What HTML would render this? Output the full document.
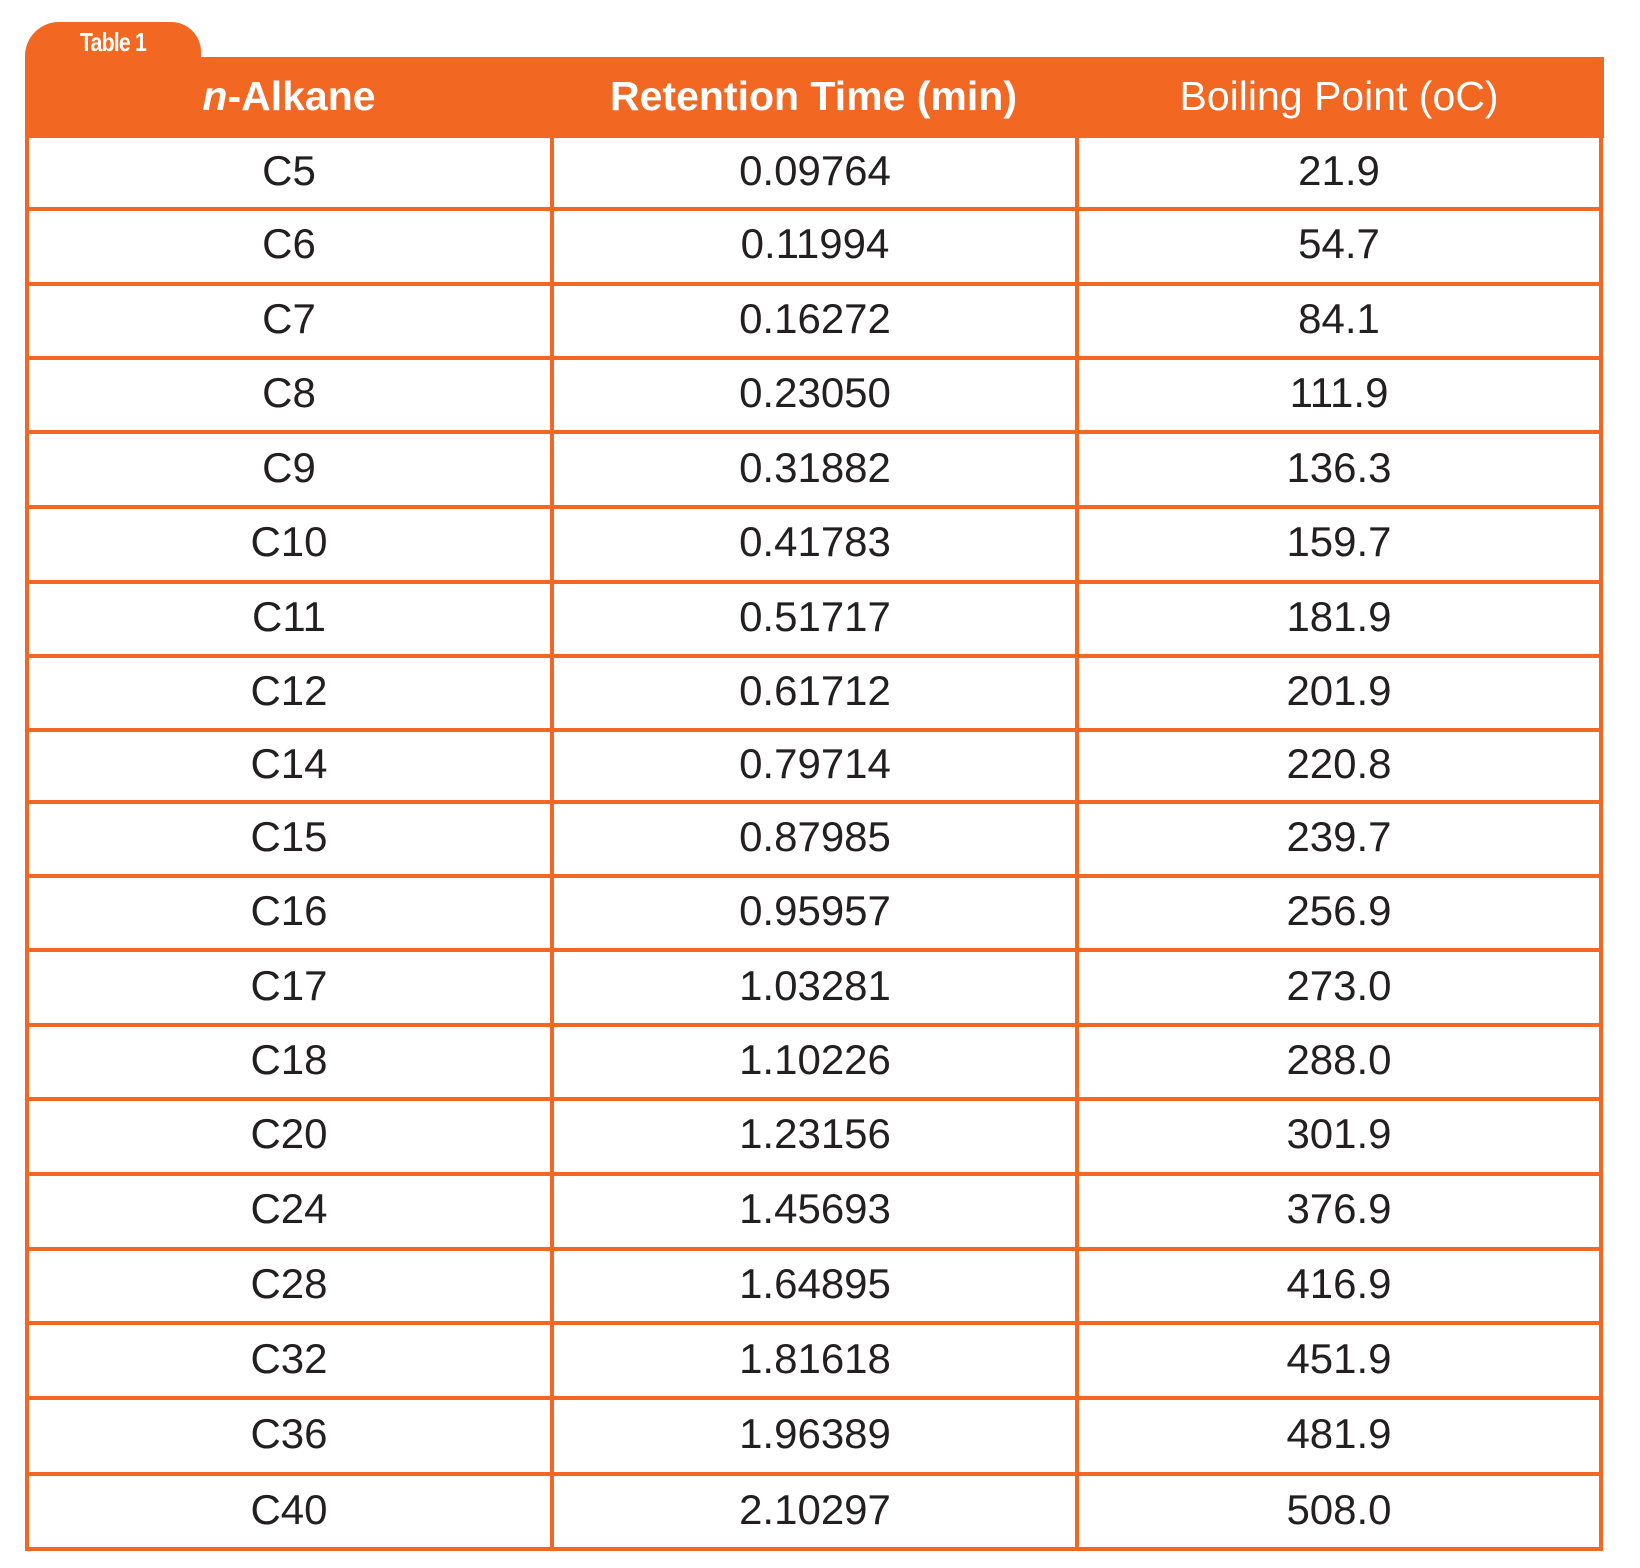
<!DOCTYPE html>
<html><head><meta charset="utf-8"><style>
*{margin:0;padding:0;box-sizing:border-box}
body{width:1640px;height:1568px;background:#fff;position:relative;overflow:hidden;font-family:"Liberation Sans",sans-serif}
.o{position:absolute;background:#f26722}
.t{position:absolute;text-align:center;color:#231f20;font-size:42px;line-height:42px}
.h{position:absolute;text-align:center;color:#fff;font-size:41px;line-height:41px}
</style></head><body>
<div class="o" style="left:25px;top:22px;width:176px;height:60px;border-radius:34px 30px 0 0"></div>
<div style="position:absolute;left:25px;top:27px;width:176px;text-align:center;color:#fff;font-weight:bold;font-size:26px;letter-spacing:-1px;transform:scaleX(0.82)">Table 1</div>
<div class="o" style="left:25px;top:57px;width:1579px;height:81px"></div>
<div class="h" style="left:27px;top:76px;width:524px;font-weight:bold"><i>n</i>-Alkane</div>
<div class="h" style="left:551px;top:76px;width:525px;font-weight:bold">Retention Time (min)</div>
<div class="h" style="left:1076px;top:76px;width:526px">Boiling Point (oC)</div>
<div class="o" style="left:25px;top:137px;width:4px;height:1414px"></div>
<div class="o" style="left:1599px;top:137px;width:4px;height:1414px"></div>
<div class="o" style="left:550px;top:137px;width:4px;height:1414px"></div>
<div class="o" style="left:1075px;top:137px;width:4px;height:1414px"></div>
<div id="rows"></div>
<script>
var d=[["C5","0.09764","21.9"],["C6","0.11994","54.7"],["C7","0.16272","84.1"],["C8","0.23050","111.9"],["C9","0.31882","136.3"],["C10","0.41783","159.7"],["C11","0.51717","181.9"],["C12","0.61712","201.9"],["C14","0.79714","220.8"],["C15","0.87985","239.7"],["C16","0.95957","256.9"],["C17","1.03281","273.0"],["C18","1.10226","288.0"],["C20","1.23156","301.9"],["C24","1.45693","376.9"],["C28","1.64895","416.9"],["C32","1.81618","451.9"],["C36","1.96389","481.9"],["C40","2.10297","508.0"]];
var L=[137,209,283.5,358,432,507,581.5,656,730,802,875.5,950,1025,1099,1173.5,1249,1323,1398,1474,1549];
var h="";
for(var i=0;i<19;i++){
 var y=L[i+1];
 h+='<div class="o" style="left:25px;top:'+(y-2)+'px;width:1578px;height:4px"></div>';
 var c=(L[i]+L[i+1])/2-23;
 h+='<div class="t" style="left:27px;top:'+c+'px;width:524px">'+d[i][0]+'</div>';
 h+='<div class="t" style="left:553px;top:'+c+'px;width:524px">'+d[i][1]+'</div>';
 h+='<div class="t" style="left:1078px;top:'+c+'px;width:522px">'+d[i][2]+'</div>';
}
document.getElementById("rows").innerHTML=h;
</script>
</body></html>
